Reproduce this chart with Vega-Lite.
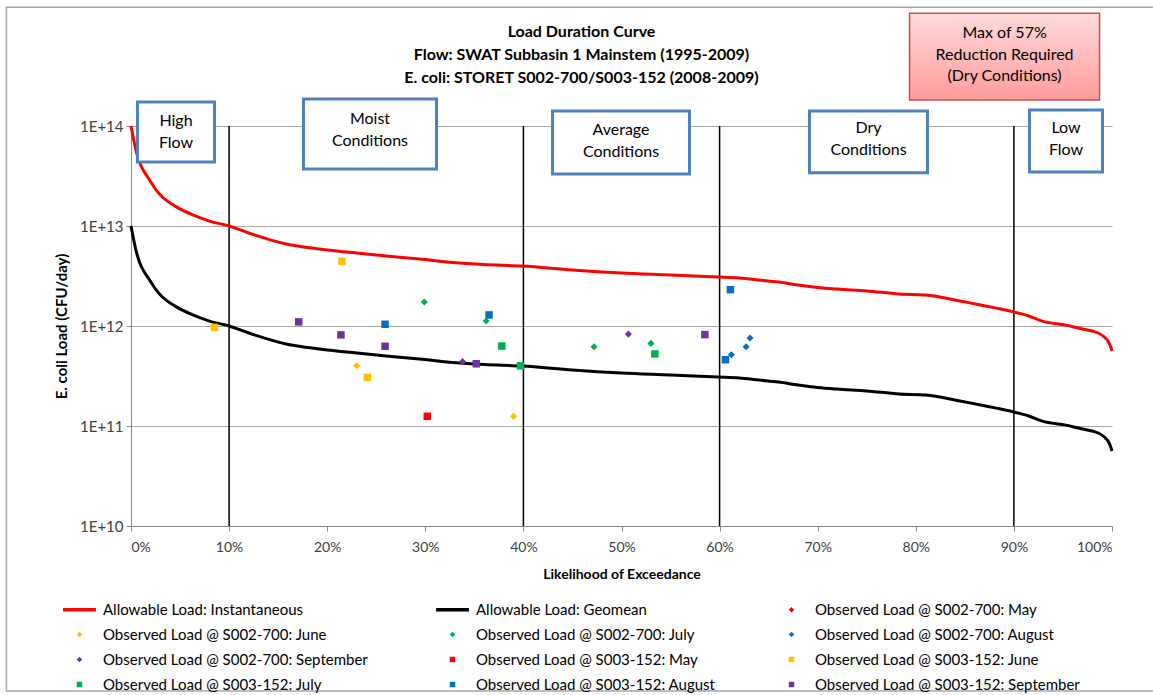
{
  "$schema": "https://vega.github.io/schema/vega-lite/v6.json",
  "autosize": "none",
  "width": 981,
  "height": 400,
  "padding": {"left": 131, "top": 126, "right": 41, "bottom": 169},
  "background": "white",
  "config": {
    "font": "Lato",
    "view": {"stroke": null},
    "text": {"lineBreak": "\n"}
  },
  "title": {
    "text": ["Load Duration Curve", "Flow: SWAT Subbasin 1 Mainstem (1995-2009)", "E. coli: STORET S002-700/S003-152 (2008-2009)"],
    "anchor": "middle",
    "font": "Lato",
    "fontSize": 16,
    "fontWeight": "bold",
    "lineHeight": 23,
    "color": "#000000",
    "dx": -40,
    "offset": -80
  },
  "datasets": {
    "curves": [
      {"s": "Allowable Load: Instantaneous", "x": 0, "y": 1e14},
      {"s": "Allowable Load: Instantaneous", "x": 0.003, "y": 7.08e13},
      {"s": "Allowable Load: Instantaneous", "x": 0.006, "y": 5.25e13},
      {"s": "Allowable Load: Instantaneous", "x": 0.009, "y": 4.27e13},
      {"s": "Allowable Load: Instantaneous", "x": 0.013, "y": 3.55e13},
      {"s": "Allowable Load: Instantaneous", "x": 0.019, "y": 2.88e13},
      {"s": "Allowable Load: Instantaneous", "x": 0.025, "y": 2.34e13},
      {"s": "Allowable Load: Instantaneous", "x": 0.032, "y": 1.95e13},
      {"s": "Allowable Load: Instantaneous", "x": 0.045, "y": 1.58e13},
      {"s": "Allowable Load: Instantaneous", "x": 0.063, "y": 1.29e13},
      {"s": "Allowable Load: Instantaneous", "x": 0.08, "y": 1.12e13},
      {"s": "Allowable Load: Instantaneous", "x": 0.1, "y": 1.0e13},
      {"s": "Allowable Load: Instantaneous", "x": 0.12, "y": 8.51e12},
      {"s": "Allowable Load: Instantaneous", "x": 0.158, "y": 6.61e12},
      {"s": "Allowable Load: Instantaneous", "x": 0.192, "y": 5.89e12},
      {"s": "Allowable Load: Instantaneous", "x": 0.22, "y": 5.5e12},
      {"s": "Allowable Load: Instantaneous", "x": 0.26, "y": 5.01e12},
      {"s": "Allowable Load: Instantaneous", "x": 0.294, "y": 4.68e12},
      {"s": "Allowable Load: Instantaneous", "x": 0.328, "y": 4.32e12},
      {"s": "Allowable Load: Instantaneous", "x": 0.36, "y": 4.12e12},
      {"s": "Allowable Load: Instantaneous", "x": 0.399, "y": 3.98e12},
      {"s": "Allowable Load: Instantaneous", "x": 0.45, "y": 3.63e12},
      {"s": "Allowable Load: Instantaneous", "x": 0.5, "y": 3.39e12},
      {"s": "Allowable Load: Instantaneous", "x": 0.55, "y": 3.24e12},
      {"s": "Allowable Load: Instantaneous", "x": 0.598, "y": 3.09e12},
      {"s": "Allowable Load: Instantaneous", "x": 0.62, "y": 3.02e12},
      {"s": "Allowable Load: Instantaneous", "x": 0.64, "y": 2.88e12},
      {"s": "Allowable Load: Instantaneous", "x": 0.66, "y": 2.75e12},
      {"s": "Allowable Load: Instantaneous", "x": 0.68, "y": 2.57e12},
      {"s": "Allowable Load: Instantaneous", "x": 0.7, "y": 2.43e12},
      {"s": "Allowable Load: Instantaneous", "x": 0.72, "y": 2.34e12},
      {"s": "Allowable Load: Instantaneous", "x": 0.75, "y": 2.24e12},
      {"s": "Allowable Load: Instantaneous", "x": 0.783, "y": 2.09e12},
      {"s": "Allowable Load: Instantaneous", "x": 0.81, "y": 2.04e12},
      {"s": "Allowable Load: Instantaneous", "x": 0.845, "y": 1.78e12},
      {"s": "Allowable Load: Instantaneous", "x": 0.882, "y": 1.51e12},
      {"s": "Allowable Load: Instantaneous", "x": 0.9, "y": 1.38e12},
      {"s": "Allowable Load: Instantaneous", "x": 0.915, "y": 1.26e12},
      {"s": "Allowable Load: Instantaneous", "x": 0.929, "y": 1.12e12},
      {"s": "Allowable Load: Instantaneous", "x": 0.953, "y": 1.02e12},
      {"s": "Allowable Load: Instantaneous", "x": 0.97, "y": 9.33e11},
      {"s": "Allowable Load: Instantaneous", "x": 0.98, "y": 8.91e11},
      {"s": "Allowable Load: Instantaneous", "x": 0.991, "y": 7.94e11},
      {"s": "Allowable Load: Instantaneous", "x": 0.998, "y": 6.46e11},
      {"s": "Allowable Load: Instantaneous", "x": 1.0, "y": 5.62e11},
      {"s": "Allowable Load: Geomean", "x": 0, "y": 1e13},
      {"s": "Allowable Load: Geomean", "x": 0.003, "y": 7.08e12},
      {"s": "Allowable Load: Geomean", "x": 0.006, "y": 5.25e12},
      {"s": "Allowable Load: Geomean", "x": 0.009, "y": 4.27e12},
      {"s": "Allowable Load: Geomean", "x": 0.013, "y": 3.55e12},
      {"s": "Allowable Load: Geomean", "x": 0.019, "y": 2.88e12},
      {"s": "Allowable Load: Geomean", "x": 0.025, "y": 2.34e12},
      {"s": "Allowable Load: Geomean", "x": 0.032, "y": 1.95e12},
      {"s": "Allowable Load: Geomean", "x": 0.045, "y": 1.58e12},
      {"s": "Allowable Load: Geomean", "x": 0.063, "y": 1.29e12},
      {"s": "Allowable Load: Geomean", "x": 0.08, "y": 1.12e12},
      {"s": "Allowable Load: Geomean", "x": 0.1, "y": 1.0e12},
      {"s": "Allowable Load: Geomean", "x": 0.12, "y": 8.51e11},
      {"s": "Allowable Load: Geomean", "x": 0.158, "y": 6.61e11},
      {"s": "Allowable Load: Geomean", "x": 0.192, "y": 5.89e11},
      {"s": "Allowable Load: Geomean", "x": 0.22, "y": 5.5e11},
      {"s": "Allowable Load: Geomean", "x": 0.26, "y": 5.01e11},
      {"s": "Allowable Load: Geomean", "x": 0.294, "y": 4.68e11},
      {"s": "Allowable Load: Geomean", "x": 0.328, "y": 4.32e11},
      {"s": "Allowable Load: Geomean", "x": 0.36, "y": 4.12e11},
      {"s": "Allowable Load: Geomean", "x": 0.399, "y": 3.98e11},
      {"s": "Allowable Load: Geomean", "x": 0.45, "y": 3.63e11},
      {"s": "Allowable Load: Geomean", "x": 0.5, "y": 3.39e11},
      {"s": "Allowable Load: Geomean", "x": 0.55, "y": 3.24e11},
      {"s": "Allowable Load: Geomean", "x": 0.598, "y": 3.09e11},
      {"s": "Allowable Load: Geomean", "x": 0.62, "y": 3.02e11},
      {"s": "Allowable Load: Geomean", "x": 0.64, "y": 2.88e11},
      {"s": "Allowable Load: Geomean", "x": 0.66, "y": 2.75e11},
      {"s": "Allowable Load: Geomean", "x": 0.68, "y": 2.57e11},
      {"s": "Allowable Load: Geomean", "x": 0.7, "y": 2.43e11},
      {"s": "Allowable Load: Geomean", "x": 0.72, "y": 2.34e11},
      {"s": "Allowable Load: Geomean", "x": 0.75, "y": 2.24e11},
      {"s": "Allowable Load: Geomean", "x": 0.783, "y": 2.09e11},
      {"s": "Allowable Load: Geomean", "x": 0.81, "y": 2.04e11},
      {"s": "Allowable Load: Geomean", "x": 0.845, "y": 1.78e11},
      {"s": "Allowable Load: Geomean", "x": 0.882, "y": 1.51e11},
      {"s": "Allowable Load: Geomean", "x": 0.9, "y": 1.38e11},
      {"s": "Allowable Load: Geomean", "x": 0.915, "y": 1.26e11},
      {"s": "Allowable Load: Geomean", "x": 0.929, "y": 1.12e11},
      {"s": "Allowable Load: Geomean", "x": 0.953, "y": 1.02e11},
      {"s": "Allowable Load: Geomean", "x": 0.97, "y": 9.33e10},
      {"s": "Allowable Load: Geomean", "x": 0.98, "y": 8.91e10},
      {"s": "Allowable Load: Geomean", "x": 0.991, "y": 7.94e10},
      {"s": "Allowable Load: Geomean", "x": 0.998, "y": 6.46e10},
      {"s": "Allowable Load: Geomean", "x": 1.0, "y": 5.62e10}
    ],
    "obs": [
      {"s": "Observed Load @ S002-700: June", "x": 0.230, "y": 4.0e11},
      {"s": "Observed Load @ S002-700: June", "x": 0.390, "y": 1.25e11},
      {"s": "Observed Load @ S002-700: July", "x": 0.299, "y": 1.74e12},
      {"s": "Observed Load @ S002-700: July", "x": 0.362, "y": 1.12e12},
      {"s": "Observed Load @ S002-700: July", "x": 0.472, "y": 6.2e11},
      {"s": "Observed Load @ S002-700: July", "x": 0.530, "y": 6.7e11},
      {"s": "Observed Load @ S002-700: August", "x": 0.612, "y": 5.15e11},
      {"s": "Observed Load @ S002-700: August", "x": 0.627, "y": 6.2e11},
      {"s": "Observed Load @ S002-700: August", "x": 0.631, "y": 7.6e11},
      {"s": "Observed Load @ S002-700: September", "x": 0.338, "y": 4.4e11},
      {"s": "Observed Load @ S002-700: September", "x": 0.507, "y": 8.3e11},
      {"s": "Observed Load @ S003-152: May", "x": 0.302, "y": 1.25e11},
      {"s": "Observed Load @ S003-152: June", "x": 0.085, "y": 9.7e11},
      {"s": "Observed Load @ S003-152: June", "x": 0.215, "y": 4.43e12},
      {"s": "Observed Load @ S003-152: June", "x": 0.241, "y": 3.06e11},
      {"s": "Observed Load @ S003-152: July", "x": 0.378, "y": 6.3e11},
      {"s": "Observed Load @ S003-152: July", "x": 0.397, "y": 4.0e11},
      {"s": "Observed Load @ S003-152: July", "x": 0.534, "y": 5.26e11},
      {"s": "Observed Load @ S003-152: August", "x": 0.259, "y": 1.04e12},
      {"s": "Observed Load @ S003-152: August", "x": 0.365, "y": 1.29e12},
      {"s": "Observed Load @ S003-152: August", "x": 0.606, "y": 4.6e11},
      {"s": "Observed Load @ S003-152: August", "x": 0.611, "y": 2.31e12},
      {"s": "Observed Load @ S003-152: September", "x": 0.171, "y": 1.10e12},
      {"s": "Observed Load @ S003-152: September", "x": 0.214, "y": 8.15e11},
      {"s": "Observed Load @ S003-152: September", "x": 0.259, "y": 6.27e11},
      {"s": "Observed Load @ S003-152: September", "x": 0.352, "y": 4.19e11},
      {"s": "Observed Load @ S003-152: September", "x": 0.585, "y": 8.2e11}
    ],
    "dividers": [{"x": 0.1}, {"x": 0.4}, {"x": 0.6}, {"x": 0.9}],
    "boxes": [
      {"label": "High\nFlow", "x1": 0.0066, "x2": 0.0851, "y1": 1.74e14, "y2": 4.37e13, "xc": 0.0459, "yc": 1.121e14},
      {"label": "Moist\nConditions", "x1": 0.1758, "x2": 0.3114, "y1": 1.86e14, "y2": 3.72e13, "xc": 0.2436, "yc": 1.175e14},
      {"label": "Average\nConditions", "x1": 0.4297, "x2": 0.5693, "y1": 1.41e14, "y2": 3.32e13, "xc": 0.4995, "yc": 9.12e13},
      {"label": "Dry\nConditions", "x1": 0.6916, "x2": 0.8119, "y1": 1.41e14, "y2": 3.40e13, "xc": 0.7518, "yc": 9.55e13},
      {"label": "Low\nFlow", "x1": 0.9159, "x2": 0.9903, "y1": 1.445e14, "y2": 3.47e13, "xc": 0.9531, "yc": 9.55e13}
    ],
    "note": [
      {"label": "Max of 57%\nReduction Required\n(Dry Conditions)", "x1": 0.7936, "x2": 0.9873, "y1": 1.34e15, "y2": 1.82e14, "xc": 0.8905, "yc": 8.47e14}
    ],
    "frame": [
      {"x1": -0.127, "x2": 1.045, "y1": 1.54e15, "y2": 2.24e8}
    ]
  },
  "layer": [
    {
      "data": {"name": "frame"},
      "mark": {"type": "rect", "fill": null, "stroke": "#a6a6a6", "strokeWidth": 1.5},
      "encoding": {
        "x": {"field": "x1", "type": "quantitative", "scale": {"domain": [0, 1], "nice": false, "zero": false}},
        "x2": {"field": "x2"},
        "y": {"field": "y1", "type": "quantitative", "scale": {"type": "log", "domain": [1e10, 1e14], "nice": false}},
        "y2": {"field": "y2"}
      }
    },
    {
      "data": {"name": "dividers"},
      "mark": {"type": "rule", "color": "#000000", "strokeWidth": 1.5},
      "encoding": {
        "x": {"field": "x", "type": "quantitative"}
      }
    },
    {
      "data": {"name": "curves"},
      "mark": {"type": "line", "strokeWidth": 3, "interpolate": "monotone"},
      "encoding": {
        "x": {"field": "x", "type": "quantitative", "scale": {"domain": [0, 1], "nice": false, "zero": false},
          "axis": {"title": "Likelihood of Exceedance", "format": ".0%", "values": [0, 0.1, 0.2, 0.3, 0.4, 0.5, 0.6, 0.7, 0.8, 0.9, 1.0],
            "grid": false, "domainColor": "#868686", "tickColor": "#868686", "tickSize": 5, "labelFontSize": 14, "labelColor": "#404040",
            "labelPadding": 9, "titleFontSize": 14, "titleFontWeight": "bold", "titleColor": "#000000", "titlePadding": 13, "labelFont": "Lato", "titleFont": "Lato"}},
        "y": {"field": "y", "type": "quantitative", "scale": {"type": "log", "domain": [1e10, 1e14], "nice": false},
          "axis": {"title": "E. coli Load (CFU/day)", "values": [1e10, 1e11, 1e12, 1e13, 1e14],
            "labelExpr": "'1E+' + round(log(datum.value) / LN10)", "grid": true, "gridColor": "#a6a6a6", "gridWidth": 1,
            "domainColor": "#868686", "tickColor": "#868686", "tickSize": 5, "labelFontSize": 15, "labelColor": "#404040",
            "labelPadding": 3, "titleFontSize": 15, "titleFontWeight": "bold", "titleColor": "#000000", "titlePadding": 10, "labelFont": "Lato", "titleFont": "Lato"}},
        "color": {"field": "s", "type": "nominal",
          "scale": {
            "domain": ["Allowable Load: Instantaneous", "Allowable Load: Geomean", "Observed Load @ S002-700: May", "Observed Load @ S002-700: June", "Observed Load @ S002-700: July", "Observed Load @ S002-700: August", "Observed Load @ S002-700: September", "Observed Load @ S003-152: May", "Observed Load @ S003-152: June", "Observed Load @ S003-152: July", "Observed Load @ S003-152: August", "Observed Load @ S003-152: September"],
            "range": ["#ff0000", "#000000", "#ff0000", "#ffc000", "#00b050", "#0070c0", "#7030a0", "#ff0000", "#ffc000", "#00b050", "#0070c0", "#7030a0"]
          },
          "legend": {
            "title": null, "orient": "none", "legendX": -59, "legendY": 476, "columns": 3, "direction": "horizontal", "columnPadding": 68, "rowPadding": 9,
            "labelFontSize": 15, "labelFont": "Lato", "labelColor": "#000000", "labelLimit": 400, "symbolSize": 30, "labelOffset": 16,
            "symbolStrokeWidth": 0
          }
        }
      }
    },
    {
      "data": {"name": "obs"},
      "mark": {"type": "point", "filled": true, "opacity": 1},
      "encoding": {
        "x": {"field": "x", "type": "quantitative"},
        "y": {"field": "y", "type": "quantitative"},
        "color": {"field": "s", "type": "nominal"},
        "shape": {"field": "s", "type": "nominal",
          "scale": {
            "domain": ["Allowable Load: Instantaneous", "Allowable Load: Geomean", "Observed Load @ S002-700: May", "Observed Load @ S002-700: June", "Observed Load @ S002-700: July", "Observed Load @ S002-700: August", "Observed Load @ S002-700: September", "Observed Load @ S003-152: May", "Observed Load @ S003-152: June", "Observed Load @ S003-152: July", "Observed Load @ S003-152: August", "Observed Load @ S003-152: September"],
            "range": ["M-6,-0.6H6V0.6H-6Z", "M-6,-0.6H6V0.6H-6Z", "diamond", "diamond", "diamond", "diamond", "diamond", "square", "square", "square", "square", "square"]
          }
        },
        "size": {"condition": {"test": "test(/S002/, datum.s)", "value": 50}, "value": 56}
      }
    },
    {
      "data": {"name": "boxes"},
      "mark": {"type": "rect", "fill": "#ffffff", "stroke": "#4f81bd", "strokeWidth": 3},
      "encoding": {
        "x": {"field": "x1", "type": "quantitative"},
        "x2": {"field": "x2"},
        "y": {"field": "y1", "type": "quantitative"},
        "y2": {"field": "y2"}
      }
    },
    {
      "data": {"name": "boxes"},
      "mark": {"type": "text", "fontSize": 16, "font": "Lato", "lineHeight": 22, "align": "center", "baseline": "middle", "color": "#000000"},
      "encoding": {
        "x": {"field": "xc", "type": "quantitative"},
        "y": {"field": "yc", "type": "quantitative"},
        "text": {"field": "label"}
      }
    },
    {
      "data": {"name": "note"},
      "mark": {"type": "rect", "stroke": "#c0504d", "strokeWidth": 1.5,
        "fill": {"gradient": "linear", "x1": 0, "y1": 0, "x2": 0, "y2": 1, "stops": [{"offset": 0, "color": "#ffdada"}, {"offset": 1, "color": "#ff9c9c"}]}},
      "encoding": {
        "x": {"field": "x1", "type": "quantitative"},
        "x2": {"field": "x2"},
        "y": {"field": "y1", "type": "quantitative"},
        "y2": {"field": "y2"}
      }
    },
    {
      "data": {"name": "note"},
      "mark": {"type": "text", "fontSize": 16, "font": "Lato", "lineHeight": 21.5, "align": "center", "baseline": "middle", "color": "#000000"},
      "encoding": {
        "x": {"field": "xc", "type": "quantitative"},
        "y": {"field": "yc", "type": "quantitative"},
        "text": {"field": "label"}
      }
    }
  ]
}
